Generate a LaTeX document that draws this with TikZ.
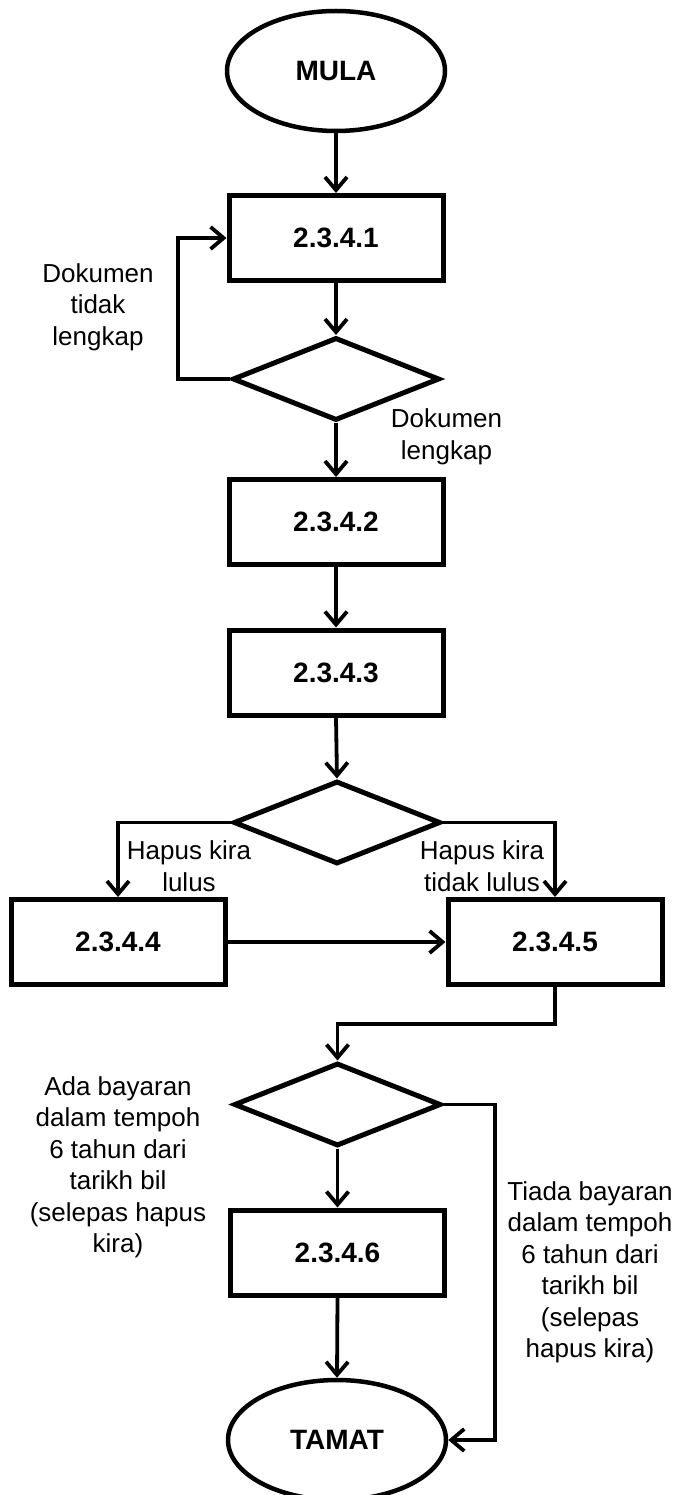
\documentclass[tikz,border=0pt]{standalone}
\usepackage{fontspec}
\setmainfont{Liberation Sans}
\usetikzlibrary{shapes.geometric,arrows.meta}
\begin{document}
\begin{tikzpicture}[x=1pt,y=-1pt,
  proc/.style={draw, line width=5pt, rectangle, minimum width=214pt, minimum height=85pt,
    inner sep=0pt, font=\fontsize{28}{33}\selectfont\bfseries},
  term/.style={draw, line width=4.5pt, ellipse, minimum width=218pt, minimum height=120pt,
    inner sep=0pt, font=\fontsize{28}{33}\selectfont\bfseries},
  decide/.style={draw, line width=5pt, diamond, minimum width=207pt, minimum height=83pt,
    inner sep=0pt},
  flow/.style={line width=3.8pt, -{Straight Barb[length=13pt,width=22pt]}},
  note/.style={align=center, font=\fontsize{26}{31.5}\selectfont, inner sep=0pt}
]
\useasboundingbox (0,0) rectangle (677,1495);

% main shapes
\node[term] (start) at (336,71) {MULA};
\node[proc] (p1) at (336,238) {2.3.4.1};
\node[decide] (d1) at (336,379) {};
\node[proc] (p2) at (336,522) {2.3.4.2};
\node[proc] (p3) at (336,672.5) {2.3.4.3};
\node[decide] (d2) at (337,822.5) {};
\node[proc] (p4) at (118,942) {2.3.4.4};
\node[proc] (p5) at (555,942) {2.3.4.5};
\node[decide] (d3) at (337.5,1104.5) {};
\node[proc] (p6) at (337.5,1252.5) {2.3.4.6};
\node[term] (end) at (337,1440) {TAMAT};

% routing points
\coordinate (loop) at (178,238);
\coordinate (merge) at (337.5,1024);
\coordinate (side) at (495,1104.5);

% connectors
\draw[flow] (start.south) -- (p1.north);
\draw[flow] (p1.south) -- (d1.north);
\draw[flow] (d1.west) -| (loop) -- (p1.west);
\draw[flow] (d1.south) -- (p2.north);
\draw[flow] (p2.south) -- (p3.north);
\draw[flow] (p3.south) -- (d2.north);
\draw[flow] (d2.west) -| (p4.north);
\draw[flow] (d2.east) -| (p5.north);
\draw[flow] (p4.east) -- (p5.west);
\draw[flow] (p5.south) |- (merge) -- (d3.north);
\draw[flow] (d3.south) -- (p6.north);
\draw[flow] (p6.south) -- (end.north);
\draw[flow] (d3.east) -- (side) |- (end.east);

% branch labels
\node[note] (l1) at (98,307) {Dokumen\\tidak\\lengkap};
\node[note] (l2) at (446.5,437) {Dokumen\\lengkap};
\node[note] (l3) at (189,866) {Hapus kira\\lulus};
\node[note] (l4) at (482,866) {Hapus kira\\tidak lulus};
\node[note] (l5) at (118,1167.5) {Ada bayaran\\dalam tempoh\\6 tahun dari\\tarikh bil\\(selepas hapus\\kira)};
\node[note] (l6) at (590,1272.5) {Tiada bayaran\\dalam tempoh\\6 tahun dari\\tarikh bil\\(selepas\\hapus kira)};
\end{tikzpicture}
\end{document}
